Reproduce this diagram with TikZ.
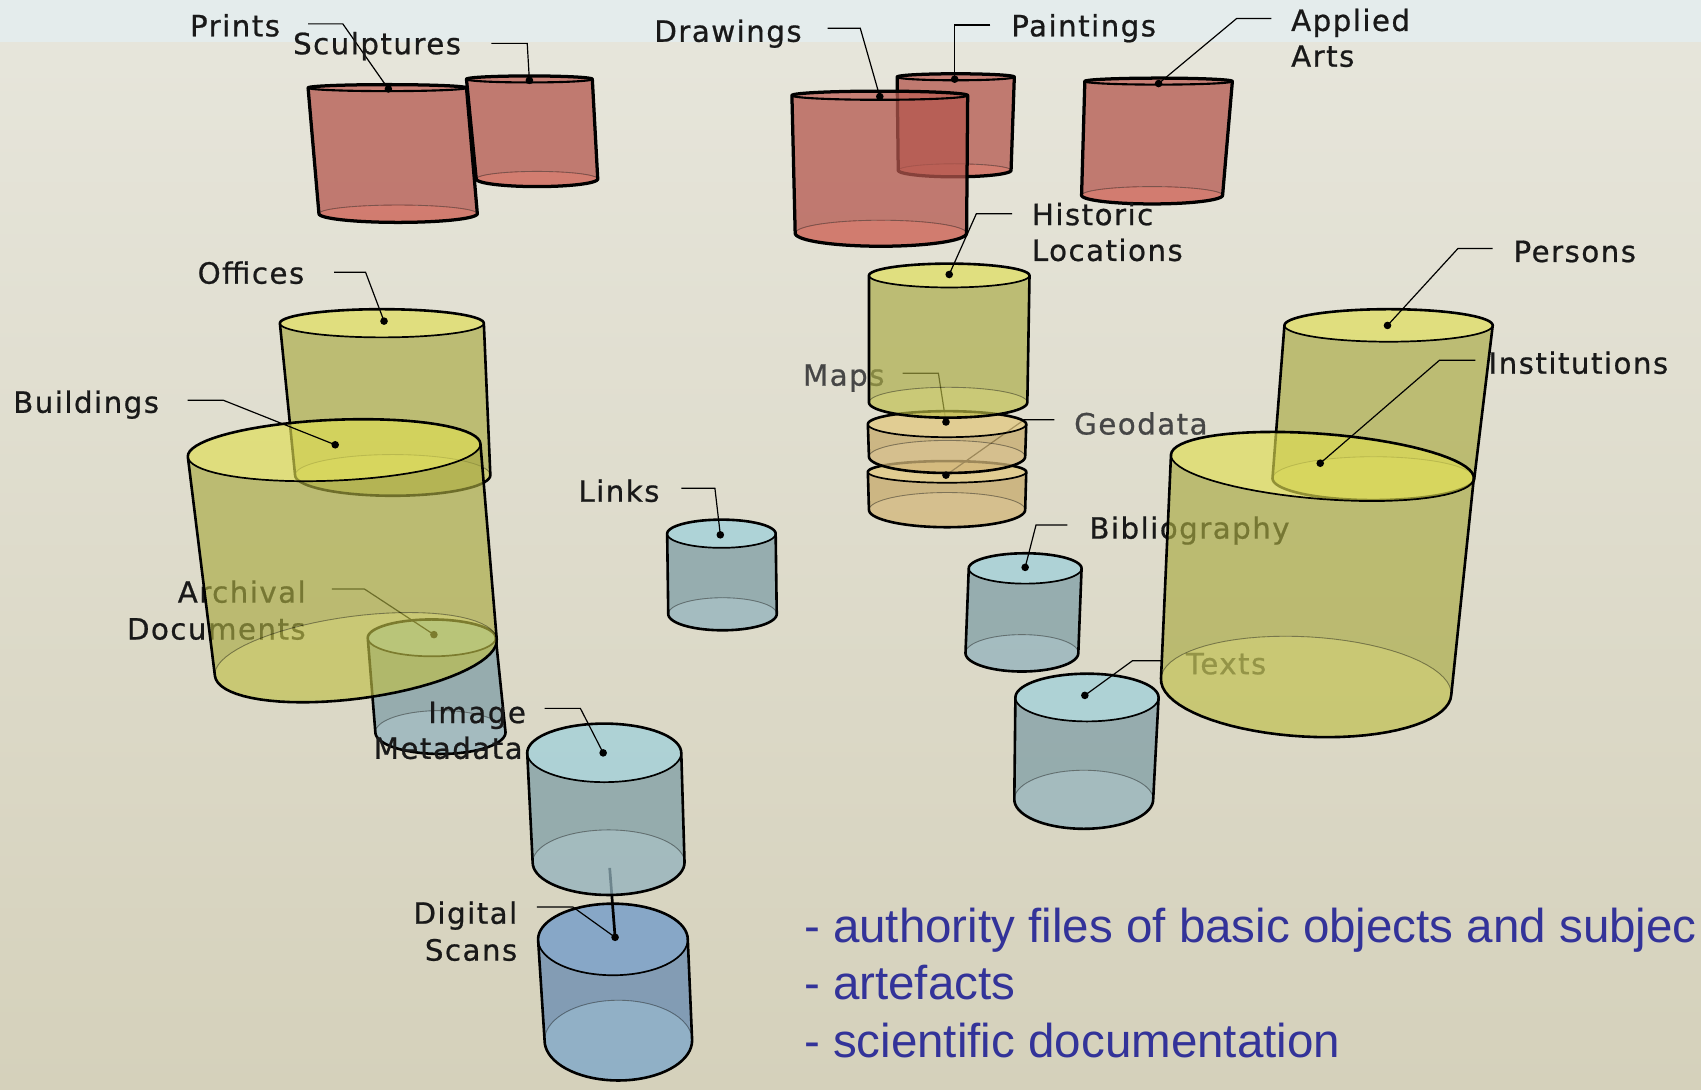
\documentclass[tikz,border=0pt]{standalone}
\usepackage{fontspec}
\newfontfamily\lblfont[LetterSpace=5.0,FakeBold=0.7]{DejaVu Sans}
\newfontfamily\bluefont{Liberation Sans}
\definecolor{bgtop}{RGB}{231,230,220}
\definecolor{bgbot}{RGB}{213,209,187}
\definecolor{band}{RGB}{228,236,236}
\definecolor{redSide}{RGB}{180,87,78}
\definecolor{redTop}{RGB}{190,95,85}
\definecolor{redBot}{RGB}{204,91,78}
\definecolor{yelSide}{RGB}{169,170,66}
\definecolor{yelTop}{RGB}{223,222,82}
\definecolor{yelBot}{RGB}{191,191,72}
\definecolor{bluSide}{RGB}{127,158,166}
\definecolor{bluTop}{RGB}{159,208,219}
\definecolor{bluBot}{RGB}{146,178,189}
\definecolor{tanSide}{RGB}{198,170,107}
\definecolor{tanTop}{RGB}{226,200,127}
\definecolor{tanBot}{RGB}{210,182,121}
\definecolor{digSide}{RGB}{103,138,177}
\definecolor{digTop}{RGB}{109,153,202}
\definecolor{digBot}{RGB}{122,165,202}
\definecolor{txtblue}{RGB}{51,51,153}
\definecolor{lbl}{RGB}{25,25,25}
\definecolor{lblgray}{RGB}{70,70,70}

\pgfkeys{/cyl/.cd,
 tx/.store in=\cTX, ty/.store in=\cTY, ta/.store in=\cTA, tb/.store in=\cTB, tr/.store in=\cTR,
 bx/.store in=\cBX, by/.store in=\cBY, ba/.store in=\cBA, bb/.store in=\cBB, br/.store in=\cBR,
 side/.store in=\cSide, top/.store in=\cTop, bot/.store in=\cBot,
 op/.store in=\cOp, lw/.store in=\cLW}

\newcommand\Cyl[1]{%
 \pgfkeys{/cyl/.cd, tr=0, br=0, op=0.75, lw=2.4, #1}%
 \pgfmathsetmacro\cLWb{0.65*\cLW}%
 \fill[fill=\cSide, fill opacity=\cOp]
  plot[domain=0:180, samples=37] ({\cTX+\cTA*cos(\x)*cos(\cTR)-\cTB*sin(\x)*sin(\cTR)},{\cTY+\cTA*cos(\x)*sin(\cTR)+\cTB*sin(\x)*cos(\cTR)})
  -- plot[domain=180:360, samples=37] ({\cBX+\cBA*cos(\x)*cos(\cBR)-\cBB*sin(\x)*sin(\cBR)},{\cBY+\cBA*cos(\x)*sin(\cBR)+\cBB*sin(\x)*cos(\cBR)})
  -- cycle;
 \fill[fill=\cBot, fill opacity=\cOp]
  plot[domain=0:360, samples=73] ({\cBX+\cBA*cos(\x)*cos(\cBR)-\cBB*sin(\x)*sin(\cBR)},{\cBY+\cBA*cos(\x)*sin(\cBR)+\cBB*sin(\x)*cos(\cBR)}) -- cycle;
 \fill[fill=\cTop, fill opacity=\cOp]
  plot[domain=0:360, samples=73] ({\cTX+\cTA*cos(\x)*cos(\cTR)-\cTB*sin(\x)*sin(\cTR)},{\cTY+\cTA*cos(\x)*sin(\cTR)+\cTB*sin(\x)*cos(\cTR)}) -- cycle;
 \draw[line width=0.8pt, black, opacity=0.4]
  plot[domain=180:360, samples=37] ({\cBX+\cBA*cos(\x)*cos(\cBR)-\cBB*sin(\x)*sin(\cBR)},{\cBY+\cBA*cos(\x)*sin(\cBR)+\cBB*sin(\x)*cos(\cBR)});
 \draw[line width=\cLWb pt, black]
  plot[domain=0:180, samples=37] ({\cTX+\cTA*cos(\x)*cos(\cTR)-\cTB*sin(\x)*sin(\cTR)},{\cTY+\cTA*cos(\x)*sin(\cTR)+\cTB*sin(\x)*cos(\cTR)});
 \draw[line width=\cLW pt, black, line join=round]
  plot[domain=180:360, samples=37] ({\cTX+\cTA*cos(\x)*cos(\cTR)-\cTB*sin(\x)*sin(\cTR)},{\cTY+\cTA*cos(\x)*sin(\cTR)+\cTB*sin(\x)*cos(\cTR)})
  -- plot[domain=0:180, samples=37] ({\cBX+\cBA*cos(\x)*cos(\cBR)-\cBB*sin(\x)*sin(\cBR)},{\cBY+\cBA*cos(\x)*sin(\cBR)+\cBB*sin(\x)*cos(\cBR)})
  -- cycle;
}

% leader: name, start, knee, dot
\newcommand\Lead[4]{%
 \coordinate (l#1) at (#2);
 \coordinate (k#1) at (#3);
 \node[dot] (d#1) at (#4) {};
 \draw[lead] (l#1) -- (k#1) -- (d#1.center);
}

\begin{document}
\begin{tikzpicture}[x=1pt,y=-1pt,
  lb/.style={font=\lblfont\fontsize{27}{33}\selectfont, text=lbl, inner sep=0pt},
  lbg/.style={lb, text=lblgray},
  dot/.style={circle, fill=black, inner sep=0pt, minimum size=7pt},
  lead/.style={line width=1.1pt, black},
  bl/.style={font=\bluefont\fontsize{43.8}{52}\selectfont, text=txtblue, inner sep=0pt, anchor=base west}]
\useasboundingbox (0,0) rectangle (1568,1004);
\clip (0,0) rectangle (1568,1004);
\shade[top color=bgtop, bottom color=bgbot] (0,0) rectangle (1568,1004);
\fill[band] (0,0) rectangle (1568,39);

% ---------- artefacts (red) ----------
\Cyl{tx=488,ty=73,ta=58,tb=3,bx=495,by=165,ba=56,bb=7,side=redSide,top=redTop,bot=redBot,lw=3}
\Cyl{tx=357,ty=81,ta=73,tb=3,bx=367,by=197,ba=73,bb=8,side=redSide,top=redTop,bot=redBot,lw=3}
\Cyl{tx=881,ty=71,ta=54,tb=3,bx=880,by=157,ba=52,bb=6,side=redSide,top=redTop,bot=redBot,lw=3}
\Cyl{tx=811,ty=88,ta=81,tb=4,bx=812,by=215,ba=79,bb=12,side=redSide,top=redTop,bot=redBot,lw=3}
\Cyl{tx=1068,ty=75,ta=68,tb=3,bx=1062,by=180,ba=65,bb=8,side=redSide,top=redTop,bot=redBot,lw=3}

\node[lb, anchor=base west] (tPrints) at (175,33.5) {Prints};
\Lead{Prints}{284,22}{316,22}{358,82}
\node[lb, anchor=base west] (tSculptures) at (270,50) {Sculptures};
\Lead{Sculptures}{453,40}{486,40}{488,74}
\node[lb, anchor=base west] (tDrawings) at (603,38.5) {Drawings};
\Lead{Drawings}{763,26}{793,26}{811,89}
\node[lb, anchor=base west] (tPaintings) at (932,33.5) {Paintings};
\Lead{Paintings}{913,23}{880,23}{880,73}
\node[lb, anchor=base west] (tApplied) at (1190,28.5) {Applied};
\node[lb, anchor=base west] (tArts) at (1190,61.5) {Arts};
\Lead{Applied}{1172,17}{1140,17}{1068,77}

% ---------- left group ----------
\Cyl{tx=352,ty=298,ta=94,tb=13,bx=362,by=438,ba=90,bb=19,side=yelSide,top=yelTop,bot=yelBot,op=0.65}
\Cyl{tx=398,ty=588,ta=59,tb=17,bx=406,by=675,ba=60,bb=20,side=bluSide,top=bluTop,bot=bluBot}
\node[lb, anchor=base east] (tArchival) at (282,555.5) {Archival};
\node[lb, anchor=base east] (tDocuments) at (282,589.5) {Documents};
\Lead{Archival}{306,543}{336,543}{400,585}
\Cyl{tx=308,ty=415,ta=135,tb=28,tr=-2.5,bx=328,by=606,ba=131,bb=38,br=-7.5,side=yelSide,top=yelTop,bot=yelBot,op=0.65}

\node[lb, anchor=base west] (tOffices) at (182,261.5) {Offices};
\Lead{Offices}{308,251}{337,251}{354,296}
\node[lb, anchor=base west] (tBuildings) at (12,380.5) {Buildings};
\Lead{Buildings}{173,369}{206,369}{309,410}

% ---------- image metadata / digital scans ----------
\Cyl{tx=565,ty=866,ta=69,tb=33,bx=570,by=959,ba=68,bb=37,side=digSide,top=digTop,bot=digBot}
\node[dot] (dDigital) at (567,864) {};
\coordinate (imgBase) at (562,800);
\draw[line width=2.5pt, black] (imgBase) -- (dDigital.center);
\Cyl{tx=557,ty=694,ta=71,tb=27,bx=561,by=795,ba=70,bb=30,side=bluSide,top=bluTop,bot=bluBot}
\node[lb, anchor=base east] (tImage) at (485,666.5) {Image};
\node[lb, anchor=base east] (tMetadata) at (482,699.5) {Metadata};
\Lead{Image}{502,653}{535,653}{556,694}
\node[lb, anchor=base east] (tDigital) at (477,851.5) {Digital};
\node[lb, anchor=base east] (tScans) at (477,885.5) {Scans};
\coordinate (lDigital) at (495,836);
\coordinate (kDigital) at (528,836);
\draw[lead] (lDigital) -- (kDigital) -- (dDigital.center);

% ---------- links ----------
\Cyl{tx=665,ty=492,ta=50,tb=13,bx=666,by=566,ba=50,bb=15,side=bluSide,top=bluTop,bot=bluBot}
\node[lb, anchor=base west] (tLinks) at (533,462.5) {Links};
\Lead{Links}{628,450}{659,450}{664,493}

% ---------- middle stack ----------
\Cyl{tx=873,ty=435,ta=73,tb=10,bx=873,by=470,ba=72,bb=16,side=tanSide,top=tanTop,bot=tanBot}
\coordinate (lGeodata) at (972,387);
\coordinate (kGeodata) at (944,387);
\coordinate (dGeo) at (872,438);
\draw[lead] (lGeodata) -- (kGeodata) -- (dGeo);
\node[lbg, anchor=base west] (tMaps) at (740,355.5) {Maps};
\coordinate (lMaps) at (832,344);
\coordinate (kMaps) at (865,344);
\coordinate (dMp) at (872,389);
\draw[lead] (lMaps) -- (kMaps) -- (dMp);
\Cyl{tx=873,ty=391,ta=73,tb=12,bx=873,by=421,ba=72,bb=15,side=tanSide,top=tanTop,bot=tanBot}
\Cyl{tx=875,ty=254,ta=74,tb=11,bx=874,by=371,ba=73,bb=14,side=yelSide,top=yelTop,bot=yelBot,op=0.65}
\node[dot] (dMaps) at (dMp) {};
\node[dot] (dGeodata) at (dGeo) {};
\node[lbg, anchor=base west] (tGeodata) at (990,400.5) {Geodata};
\node[lb, anchor=base west] (tHistoric) at (951,207.5) {Historic};
\node[lb, anchor=base west] (tLocations) at (951,240.5) {Locations};
\Lead{Historic}{933,197}{900,197}{875,253}

% ---------- right group ----------
\Cyl{tx=1280,ty=300,ta=96,tb=15,bx=1266,by=441,ba=93,bb=20,side=yelSide,top=yelTop,bot=yelBot,op=0.65}
\node[lb, anchor=base west] (tBibliography) at (1004,496.5) {Bibliography};
\node[lbg, anchor=base west] (tTexts) at (1093,621.5) {Texts};
\Cyl{tx=1219,ty=430,ta=140,tb=30,tr=4.5,bx=1204,by=633,ba=134,bb=46,br=3.2,side=yelSide,top=yelTop,bot=yelBot,op=0.65}
\node[lb, anchor=base west] (tPersons) at (1395,241.5) {Persons};
\Lead{Persons}{1376,229}{1344,229}{1279,300}
\node[lb, anchor=base west] (tInstitutions) at (1372,344.5) {Institutions};
\Lead{Institutions}{1360,332}{1327,332}{1217,427}
\Cyl{tx=945,ty=524,ta=52,tb=14,bx=942,by=602,ba=52,bb=17,side=bluSide,top=bluTop,bot=bluBot}
\Lead{Bibliography}{984,484}{955,484}{945,523}
\Cyl{tx=1002,ty=643,ta=66,tb=22,bx=999,by=737,ba=64,bb=27,side=bluSide,top=bluTop,bot=bluBot}
\Lead{Texts}{1071,609}{1044,609}{1000,641}

% ---------- blue text ----------
\node[bl] (b1) at (741,869) {- authority files of basic objects and subjec};
\node[bl] (b2) at (741,921) {- artefacts};
\node[bl] (b3) at (741,975) {- scientific documentation};
\end{tikzpicture}
\end{document}
